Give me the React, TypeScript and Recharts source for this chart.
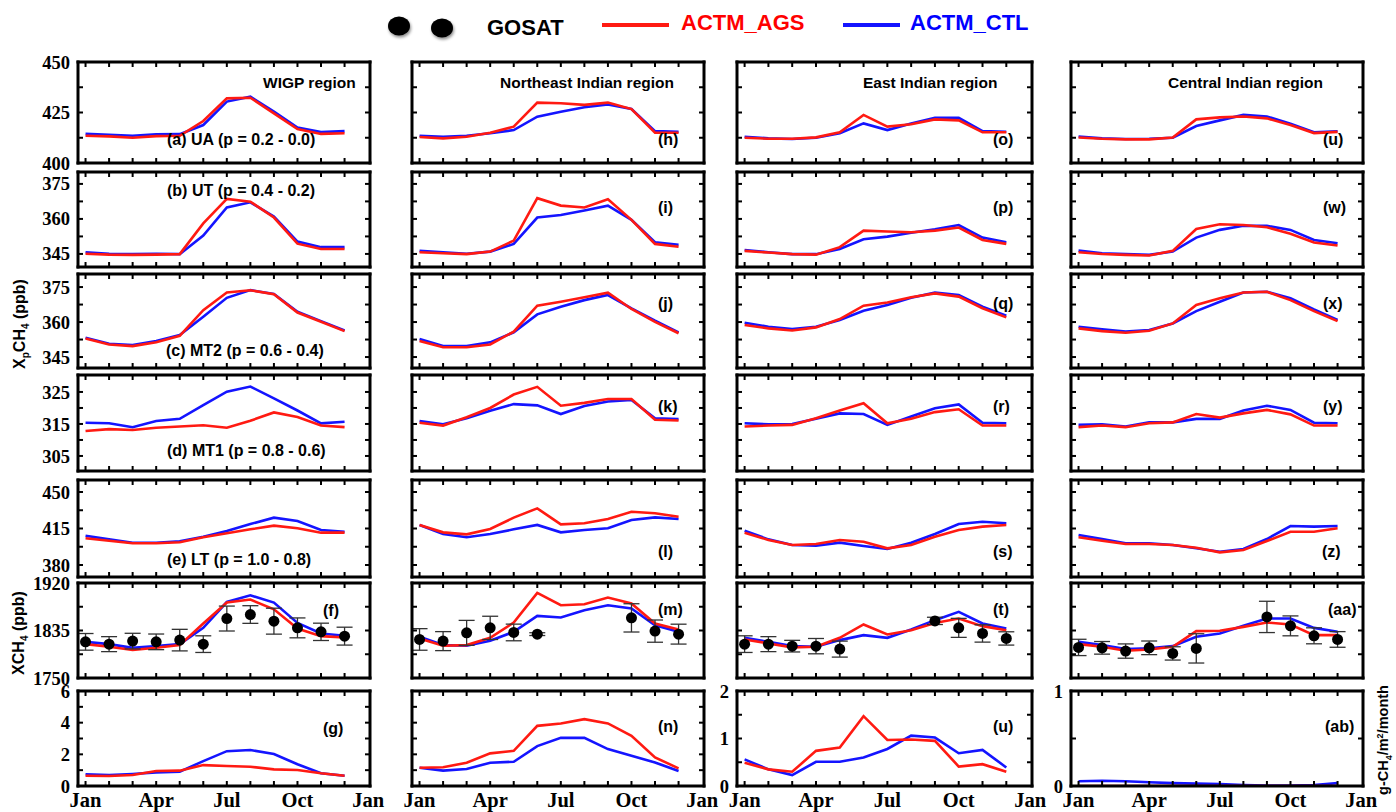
import React from "react";
import { ComposedChart, Line, Scatter, ErrorBar, XAxis, YAxis } from "recharts";

// month index (Jan = 0)
const MONTH = [0, 1, 2, 3, 4, 5, 6, 7, 8, 9, 10, 11];
const MONTH_TICKS = [0, 3, 6, 9, 12];
const MONTH_NAMES = ["Jan", "Apr", "Jul", "Oct", "Jan"];

// ---- WIGP region ----
const aAGS = [413.5, 413.2, 412.5, 413.3, 413.5, 420.8, 432.0, 432.3, 424.6, 416.8, 414.4, 414.7];
const aCTL = [414.4, 414.0, 413.5, 414.2, 414.3, 418.8, 430.4, 432.8, 425.4, 417.5, 415.3, 415.8];
const bAGS = [345.1, 344.7, 344.6, 344.7, 344.9, 358.1, 368.6, 367.4, 360.6, 349.4, 347.1, 347.1];
const bCTL = [345.7, 345.1, 344.9, 345.1, 344.9, 352.9, 364.9, 367.1, 361.0, 350.3, 347.9, 347.9];
const cAGS = [352.9, 350.4, 349.7, 351.3, 354.1, 365.1, 372.7, 373.6, 371.9, 364.1, 360.1, 356.1];
const cCTL = [353.3, 350.7, 350.1, 351.9, 354.4, 362.3, 370.4, 373.7, 372.0, 364.4, 360.4, 356.4];
const dAGS = [312.8, 313.4, 313.1, 313.8, 314.2, 314.6, 313.8, 316.0, 318.6, 317.2, 314.5, 314.0];
const dCTL = [315.4, 315.2, 314.0, 315.9, 316.6, 320.9, 325.1, 326.7, 323.0, 319.2, 315.2, 315.7];
const eAGS = [405.6, 403.3, 400.8, 400.8, 401.8, 406.6, 410.4, 414.2, 417.7, 415.2, 411.0, 411.0];
const eCTL = [408.1, 404.6, 401.4, 401.4, 402.7, 407.1, 412.6, 419.3, 425.4, 422.2, 413.6, 411.9];
const fAGS = [1810.6, 1805.8, 1800.0, 1804.0, 1808.9, 1847.5, 1885.0, 1890.4, 1873.0, 1838.6, 1824.9, 1822.6];
const fCTL = [1814.7, 1810.6, 1804.0, 1807.0, 1810.6, 1839.7, 1886.0, 1898.0, 1885.0, 1848.6, 1829.7, 1825.5];
const fGOSAT = [1814.7, 1810.6, 1816.0, 1814.7, 1817.8, 1810.6, 1856.4, 1863.6, 1851.7, 1839.7, 1832.6, 1824.9];
const fERR = [14.9, 13.4, 14.0, 14.0, 19.3, 14.9, 22.3, 15.8, 23.2, 17.8, 15.5, 16.0];
const gAGS = [0.65, 0.63, 0.69, 0.95, 0.97, 1.32, 1.26, 1.22, 1.05, 1.01, 0.8, 0.65];
const gCTL = [0.74, 0.69, 0.76, 0.86, 0.9, 1.57, 2.2, 2.27, 2.02, 1.37, 0.8, 0.65];

// ---- Northeast Indian region ----
const hAGS = [412.9, 412.2, 413.0, 415.0, 418.0, 429.9, 429.6, 428.8, 429.9, 426.7, 415.0, 415.0];
const hCTL = [413.5, 413.0, 413.5, 414.7, 416.3, 422.9, 425.4, 427.6, 429.0, 426.7, 415.8, 415.5];
const iAGS = [345.7, 345.3, 344.9, 346.0, 350.7, 368.9, 365.7, 364.9, 368.4, 359.6, 349.3, 348.1];
const iCTL = [346.3, 345.7, 345.1, 346.0, 349.3, 360.6, 361.7, 363.6, 365.7, 359.6, 350.0, 348.9];
const jAGS = [351.9, 349.2, 349.2, 350.4, 355.9, 367.0, 368.7, 370.6, 372.6, 365.6, 360.1, 355.2];
const jCTL = [352.7, 349.7, 349.7, 351.3, 355.6, 363.3, 366.6, 369.4, 371.6, 365.9, 360.6, 355.6];
const kAGS = [315.4, 314.5, 317.1, 320.0, 324.2, 326.6, 320.7, 321.6, 322.8, 322.8, 316.3, 316.1];
const kCTL = [315.9, 314.9, 316.8, 319.1, 321.2, 320.8, 318.1, 320.6, 322.0, 322.5, 316.8, 316.5];
const lAGS = [418.4, 411.3, 409.4, 414.5, 425.4, 434.3, 419.0, 420.0, 424.1, 431.1, 429.6, 426.3];
const lCTL = [418.4, 409.7, 406.6, 409.7, 414.2, 418.4, 411.3, 413.6, 415.2, 423.1, 425.7, 424.1];
const mAGS = [1820.8, 1807.6, 1808.9, 1821.9, 1849.3, 1902.2, 1880.2, 1882.0, 1894.0, 1883.3, 1847.6, 1836.9];
const mCTL = [1823.7, 1808.9, 1807.6, 1816.5, 1832.6, 1861.1, 1858.2, 1871.3, 1880.2, 1874.3, 1844.5, 1832.6];
const mGOSAT = [1819.0, 1816.0, 1830.8, 1839.7, 1831.5, 1828.5, null, null, null, 1857.6, 1833.9, 1828.5];
const mERR = [19.3, 17.0, 22.3, 20.8, 14.9, 2.5, null, null, null, 25.3, 19.9, 17.8];
const nAGS = [1.15, 1.18, 1.47, 2.06, 2.22, 3.8, 3.95, 4.22, 3.95, 3.17, 1.81, 1.11];
const nCTL = [1.15, 0.97, 1.07, 1.47, 1.53, 2.52, 3.04, 3.04, 2.33, 1.91, 1.49, 0.95];

// ---- East Indian region ----
const oAGS = [412.5, 412.0, 412.0, 412.7, 415.2, 423.8, 418.0, 419.2, 421.6, 421.1, 415.2, 415.2];
const oCTL = [413.0, 412.2, 411.9, 412.5, 414.7, 419.6, 416.3, 419.6, 422.4, 422.4, 415.8, 415.5];
const pAGS = [346.3, 345.6, 344.9, 344.7, 347.9, 355.0, 354.6, 354.3, 355.0, 356.3, 351.0, 349.3];
const pCTL = [346.7, 345.7, 344.9, 344.9, 347.1, 351.3, 352.4, 354.1, 355.6, 357.4, 352.0, 350.0];
const qAGS = [358.7, 357.3, 356.4, 357.7, 361.3, 367.0, 368.4, 370.6, 372.3, 370.9, 365.9, 362.0];
const qCTL = [359.7, 358.0, 357.0, 358.0, 360.9, 364.8, 367.3, 370.4, 372.6, 371.6, 366.6, 362.7];
const rAGS = [314.2, 314.5, 314.7, 316.8, 319.2, 321.5, 315.2, 316.6, 318.7, 319.6, 314.5, 314.5];
const rCTL = [315.2, 314.9, 315.0, 316.6, 318.3, 318.1, 314.7, 317.3, 319.9, 321.1, 315.4, 315.2];
const sAGS = [411.0, 404.0, 399.2, 400.1, 404.0, 402.3, 396.0, 399.2, 407.1, 413.6, 416.8, 418.4];
const sCTL = [412.9, 404.6, 399.2, 398.5, 401.4, 398.2, 395.3, 401.4, 409.7, 419.3, 421.5, 420.0];
const tAGS = [1819.0, 1811.9, 1804.8, 1805.8, 1821.9, 1845.8, 1827.9, 1835.6, 1848.6, 1856.5, 1842.8, 1835.6];
const tCTL = [1821.9, 1814.7, 1807.0, 1805.8, 1817.8, 1826.7, 1821.9, 1836.9, 1853.5, 1868.3, 1847.6, 1838.6];
const tGOSAT = [1810.6, 1810.6, 1807.0, 1807.0, 1801.7, null, null, null, 1852.2, 1839.7, 1829.7, 1820.8];
const tERR = [14.9, 13.4, 10.4, 13.7, 14.3, null, null, null, 6.5, 17.0, 15.5, 11.9];
const uAGS = [0.49, 0.35, 0.3, 0.74, 0.81, 1.47, 0.97, 0.98, 0.95, 0.41, 0.46, 0.3];
const uCTL = [0.56, 0.35, 0.23, 0.51, 0.51, 0.6, 0.78, 1.06, 1.02, 0.69, 0.76, 0.39];

// ---- Central Indian region ----
const u2AGS = [412.6, 412.0, 411.7, 411.7, 412.6, 421.6, 422.6, 423.0, 422.1, 418.8, 414.8, 415.4];
const u2CTL = [413.1, 412.2, 411.9, 412.0, 412.5, 418.3, 421.1, 423.8, 423.0, 419.5, 415.2, 415.7];
const wAGS = [345.7, 345.0, 344.6, 344.3, 346.3, 355.7, 357.7, 357.4, 356.4, 353.6, 349.9, 348.6];
const wCTL = [346.4, 345.3, 344.9, 344.6, 346.0, 352.0, 355.3, 357.1, 357.0, 355.3, 351.0, 349.6];
const xAGS = [357.3, 356.1, 355.4, 356.3, 359.4, 367.3, 370.2, 372.7, 373.0, 369.4, 364.7, 360.4];
const xCTL = [358.0, 356.9, 355.9, 356.6, 359.4, 364.7, 368.7, 372.7, 373.0, 370.2, 365.4, 360.9];
const yAGS = [314.0, 314.5, 314.0, 315.2, 315.5, 318.1, 317.0, 318.3, 319.4, 318.0, 314.5, 314.5];
const yCTL = [314.7, 314.9, 314.2, 315.5, 315.5, 316.6, 316.6, 319.2, 320.7, 319.4, 315.4, 315.2];
const zAGS = [406.6, 403.3, 400.1, 400.1, 399.2, 396.6, 392.1, 394.4, 403.0, 411.9, 411.9, 415.2];
const zCTL = [408.8, 404.9, 400.8, 400.8, 399.2, 396.0, 392.7, 395.3, 404.9, 417.4, 416.8, 417.4];
const aaAGS = [1810.6, 1805.8, 1798.7, 1801.1, 1805.8, 1833.9, 1834.5, 1841.5, 1849.3, 1845.8, 1826.7, 1826.7];
const aaCTL = [1814.7, 1808.9, 1801.7, 1803.0, 1807.0, 1823.7, 1829.7, 1843.3, 1856.5, 1856.5, 1839.7, 1832.6];
const aaGOSAT = [1804.7, 1804.0, 1798.2, 1804.0, 1794.0, 1803.0, null, null, 1859.3, 1843.3, 1825.5, 1819.0];
const aaERR = [14.6, 11.3, 12.8, 12.2, 11.9, 26.2, null, null, 28.0, 17.8, 14.3, 14.0];
const abAGS = [0.0, 0.0, 0.0, 0.0, 0.0, 0.0, 0.0, 0.0, 0.0, 0.0, 0.0, 0.0];
const abCTL = [0.05, 0.055, 0.05, 0.04, 0.03, 0.025, 0.02, 0.01, 0.005, 0.005, 0.01, 0.03];

// axis scales per row (rows 1-6 shared by all columns)
const ROW_DOMAIN: [number, number][] = [
  [400, 450],
  [339.4, 380.1],
  [340.3, 380.6],
  [300.3, 330.3],
  [368.5, 461.5],
  [1750, 1920],
];
const ROW_MINOR = [
  [412.5, 425, 437.5],
  [345, 352.5, 360, 367.5, 375],
  [345, 352.5, 360, 367.5, 375],
  [305, 310, 315, 320, 325],
  [380, 397.5, 415, 432.5, 450],
  [1792.5, 1835, 1877.5],
];
const ROW_LABELS = [
  [400, 425, 450],
  [345, 360, 375],
  [345, 360, 375],
  [305, 315, 325],
  [380, 415, 450],
  [1750, 1835, 1920],
];
// emission row differs per column
const EMIS_DOMAIN: [number, number][] = [[0, 6], [0, 6], [0, 2], [0, 1]];
const EMIS_MINOR = [[1, 2, 3, 4, 5], [1, 2, 3, 4, 5], [0.5, 1, 1.5], [0.5]];
const EMIS_LABELS = [[0, 2, 4, 6], null, [0, 1, 2], [0, 1]];

const COLUMNS = [
  { series: [[aAGS, aCTL], [bAGS, bCTL], [cAGS, cCTL], [dAGS, dCTL], [eAGS, eCTL], [fAGS, fCTL], [gAGS, gCTL]], gosat: fGOSAT, err: fERR },
  { series: [[hAGS, hCTL], [iAGS, iCTL], [jAGS, jCTL], [kAGS, kCTL], [lAGS, lCTL], [mAGS, mCTL], [nAGS, nCTL]], gosat: mGOSAT, err: mERR },
  { series: [[oAGS, oCTL], [pAGS, pCTL], [qAGS, qCTL], [rAGS, rCTL], [sAGS, sCTL], [tAGS, tCTL], [uAGS, uCTL]], gosat: tGOSAT, err: tERR },
  { series: [[u2AGS, u2CTL], [wAGS, wCTL], [xAGS, xCTL], [yAGS, yCTL], [zAGS, zCTL], [aaAGS, aaCTL], [abAGS, abCTL]], gosat: aaGOSAT, err: aaERR },
];

const TITLES = ["WIGP region", "Northeast Indian region", "East Indian region", "Central Indian region"];
const TITLE_X = [263, 500, 863, 1168];

const PANEL_TEXT = [
  ["(a) UA (p = 0.2 - 0.0)", "(b) UT (p = 0.4 - 0.2)", "(c) MT2 (p = 0.6 - 0.4)", "(d) MT1 (p = 0.8 - 0.6)", "(e) LT (p = 1.0 - 0.8)", "(f)", "(g)"],
  ["(h)", "(i)", "(j)", "(k)", "(l)", "(m)", "(n)"],
  ["(o)", "(p)", "(q)", "(r)", "(s)", "(t)", "(u)"],
  ["(u)", "(w)", "(x)", "(y)", "(z)", "(aa)", "(ab)"],
];

// layout
const COL_LEFT = [78, 412, 737, 1071];
const COL_W = [292, 292, 295, 292];
const ROW_TOP = [62, 172, 274, 375, 480, 583, 691];
const ROW_H = [101, 95, 94, 96, 97, 95, 95];
const LABEL_X = [
  [167, 167, 166, 167, 167, 323, 323],
  [658, 658, 658, 658, 658, 658, 658],
  [993, 993, 993, 993, 993, 993, 993],
  [1323, 1323, 1323, 1323, 1322, 1328, 1325],
];
const LABEL_Y = [145, 196, 356, 456, 565, 616, 734];
const LABEL_Y_SHORT = [145, 213, 309, 412, 557, 615, 732];

const RED = "#ff1a12";
const BLUE = "#1414ff";
const X_DOMAIN: [number, number] = [-0.32, 12.08];
const FRAME = { stroke: "#000", strokeWidth: 3, strokeLinecap: "square" as const };
const TICK = { stroke: "#000", strokeWidth: 2 };
const SERIF = "'Liberation Serif', 'Times New Roman', serif";
const SANS = "'Liberation Sans', Arial, Helvetica, sans-serif";

const Dot = (p: any) => <circle cx={p.cx} cy={p.cy} r={5.5} fill="#000" />;
// tick marks only, no text
const NoText = () => <g />;

interface PanelProps {
  left: number;
  top: number;
  w: number;
  h: number;
  ags: number[];
  ctl: number[];
  gosat?: (number | null)[];
  err?: (number | null)[];
  domain: [number, number];
  minor: number[];
  labels: number[] | null;
  xLabels: boolean;
}

function Panel({ left, top, w, h, ags, ctl, gosat, err, domain, minor, labels, xLabels }: PanelProps) {
  const rows = MONTH.map((m, i) => ({ m, ags: ags[i], ctl: ctl[i] }));
  const obs = gosat
    ? MONTH.map((m, i) => ({ m, g: gosat[i], e: err ? err[i] : 0 })).filter((d) => d.g != null)
    : [];
  const lw = labels ? 70 : 0;
  const bh = xLabels ? 30 : 0;
  const M = { top: 12, right: 22, bottom: 12, left: 12 };
  return (
    <div style={{ position: "absolute", left: left - lw - M.left, top: top - M.top }}>
      <ComposedChart width={M.left + lw + w + M.right} height={M.top + h + bh + M.bottom} data={rows} margin={M}>
        <Line xAxisId="x" yAxisId="y" type="linear" dataKey="ctl" stroke={BLUE} strokeWidth={2.6} dot={false} isAnimationActive={false} />
        <Line xAxisId="x" yAxisId="y" type="linear" dataKey="ags" stroke={RED} strokeWidth={2.6} dot={false} isAnimationActive={false} />
        {obs.length > 0 && (
          <Scatter xAxisId="x" yAxisId="y" data={obs} dataKey="g" shape={Dot} isAnimationActive={false}>
            <ErrorBar dataKey="e" direction="y" width={8} stroke="#333" strokeWidth={1.3} isAnimationActive={false} />
          </Scatter>
        )}
        <XAxis xAxisId="x" type="number" dataKey="m" domain={X_DOMAIN} allowDataOverflow ticks={MONTH} interval={0}
          mirror tick={NoText} tickSize={5} tickLine={TICK} axisLine={FRAME} height={1} />
        <XAxis xAxisId="xt" orientation="top" type="number" dataKey="m" domain={X_DOMAIN} allowDataOverflow ticks={MONTH}
          interval={0} mirror tick={NoText} tickSize={5} tickLine={TICK} axisLine={FRAME} height={1} />
        {xLabels && (
          <XAxis xAxisId="xl" type="number" dataKey="m" domain={X_DOMAIN} allowDataOverflow ticks={MONTH_TICKS} interval={0}
            tickFormatter={(v: number) => MONTH_NAMES[MONTH_TICKS.indexOf(v)]} tickLine={false} axisLine={false} height={bh}
            tickMargin={0} tick={{ fill: "#000", fontSize: 20.5, fontWeight: 700, fontFamily: SERIF }} />
        )}
        <YAxis yAxisId="y" type="number" domain={domain} allowDataOverflow ticks={minor} interval={0}
          mirror tick={NoText} tickSize={5} tickLine={TICK} axisLine={FRAME} width={1} />
        <YAxis yAxisId="yr" orientation="right" type="number" domain={domain} allowDataOverflow ticks={minor} interval={0}
          mirror tick={NoText} tickSize={5} tickLine={TICK} axisLine={FRAME} width={1} />
        {labels && (
          <YAxis yAxisId="yl" type="number" domain={domain} allowDataOverflow ticks={labels} interval={0} width={lw}
            tickLine={false} axisLine={false} tick={{ fill: "#000", fontSize: 18.5, fontWeight: 700, fontFamily: SERIF }} />
        )}
      </ComposedChart>
    </div>
  );
}

export default function App() {
  const panels: React.ReactNode[] = [];
  COLUMNS.forEach((col, c) => {
    col.series.forEach(([ags, ctl], r) => {
      const emis = r === 6;
      panels.push(
        <Panel
          key={`${c}-${r}`}
          left={COL_LEFT[c]}
          top={ROW_TOP[r]}
          w={COL_W[c]}
          h={ROW_H[r]}
          ags={ags}
          ctl={ctl}
          gosat={r === 5 ? col.gosat : undefined}
          err={r === 5 ? col.err : undefined}
          domain={emis ? EMIS_DOMAIN[c] : ROW_DOMAIN[r]}
          minor={emis ? EMIS_MINOR[c] : ROW_MINOR[r]}
          labels={emis ? EMIS_LABELS[c] : c === 0 ? ROW_LABELS[r] : null}
          xLabels={emis}
        />
      );
    });
  });

  return (
    <div style={{ position: "absolute", left: 0, top: 0, width: 1396, height: 812, background: "#fff", overflow: "hidden" }}>
      {panels}
      <svg width={1396} height={812} style={{ position: "absolute", left: 0, top: 0, pointerEvents: "none" }}>
        <defs>
          <filter id="shadow" x="-50%" y="-50%" width="200%" height="200%">
            <feDropShadow dx="1" dy="2" stdDeviation="1.5" floodColor="#000" floodOpacity="0.45" />
          </filter>
        </defs>
        {/* legend */}
        <ellipse cx={399} cy={26} rx={11} ry={9.5} fill="#000" filter="url(#shadow)" />
        <ellipse cx={442} cy={28} rx={11} ry={9.5} fill="#000" filter="url(#shadow)" />
        <text x={487} y={35} fontFamily={SANS} fontWeight={700} fontSize={22} fill="#000">GOSAT</text>
        <line x1={602} x2={669} y1={25} y2={25} stroke={RED} strokeWidth={4} />
        <text x={681} y={30} fontFamily={SANS} fontWeight={700} fontSize={22} fill="#ff0000">ACTM_AGS</text>
        <line x1={843} x2={900} y1={25} y2={25} stroke={BLUE} strokeWidth={4} />
        <text x={910} y={30} fontFamily={SANS} fontWeight={700} fontSize={22} fill="#0000ff">ACTM_CTL</text>

        {/* region titles */}
        {TITLES.map((t, i) => (
          <text key={t} x={TITLE_X[i]} y={88} fontFamily={SANS} fontWeight={700} fontSize={15.5} fill="#000">{t}</text>
        ))}

        {/* panel labels */}
        {PANEL_TEXT.map((colTexts, c) =>
          colTexts.map((t, r) => (
            <text key={`${c}-${r}`} x={LABEL_X[c][r]} y={c === 0 ? LABEL_Y[r] : LABEL_Y_SHORT[r]}
              fontFamily={SANS} fontWeight={700} fontSize={16} fill="#000">{t}</text>
          ))
        )}

        {/* axis titles */}
        <text transform="translate(25,324) rotate(-90)" textAnchor="middle" fontFamily={SANS} fontWeight={700} fontSize={16} fill="#000">
          X<tspan dy={4} fontSize={10}>p</tspan><tspan dy={-4}>CH</tspan><tspan dy={4} fontSize={10}>4</tspan><tspan dy={-4}> (ppb)</tspan>
        </text>
        <text transform="translate(24,633) rotate(-90)" textAnchor="middle" fontFamily={SANS} fontWeight={700} fontSize={16} fill="#000">
          XCH<tspan dy={4} fontSize={10}>4</tspan><tspan dy={-4}> (ppb)</tspan>
        </text>
        <text transform="translate(1388,740) rotate(-90)" textAnchor="middle" fontFamily={SANS} fontWeight={700} fontSize={14.5} fill="#000">
          g-CH<tspan dy={3.5} fontSize={9}>4</tspan><tspan dy={-3.5}>/m</tspan><tspan dy={-5.5} fontSize={9}>2</tspan><tspan dy={5.5}>/month</tspan>
        </text>
      </svg>
    </div>
  );
}
